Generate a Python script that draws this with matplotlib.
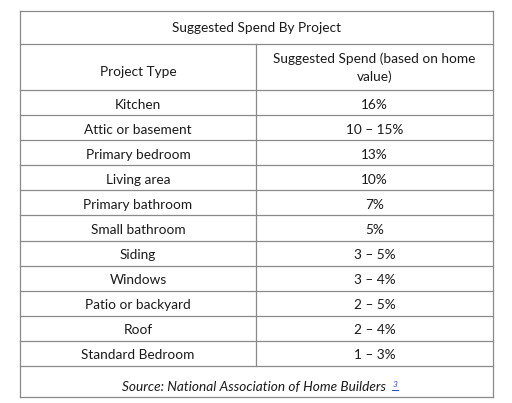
import matplotlib.pyplot as plt

title = 'Suggested Spend By Project'
col_headers = ['Project Type', 'Suggested Spend (based on home\nvalue)']
projects = ['Kitchen', 'Attic or basement', 'Primary bedroom', 'Living area',
            'Primary bathroom', 'Small bathroom', 'Siding', 'Windows',
            'Patio or backyard', 'Roof', 'Standard Bedroom']
spend = ['16%', '10 – 15%', '13%', '10%', '7%', '5%', '3 – 5%', '3 – 4%',
         '2 – 5%', '2 – 4%', '1 – 3%']
source = 'Source: National Association of Home Builders'

fig = plt.figure(figsize=(5.12, 4.03), dpi=100)
ax = fig.add_axes([0, 0, 1, 1])
ax.set_xlim(0, 512)
ax.set_ylim(403, 0)
ax.axis('off')

left, right, mid = 20, 493, 256
top, t1, t2, rows_bottom, bottom = 11, 44, 90, 366, 397
row_h = (rows_bottom - t2) / len(projects)
lc = '#8a8a8a'
fs = 9.8
font = 'Lato'
tc = '#1a1a1a'

# outer box and horizontal rules
for y in [top, t1, t2, bottom]:
    ax.plot([left, right], [y, y], color=lc, lw=0.9)
for i in range(1, len(projects) + 1):
    y = t2 + i * row_h
    ax.plot([left, right], [y, y], color=lc, lw=0.9)
ax.plot([left, left], [top, bottom], color=lc, lw=0.9)
ax.plot([right, right], [top, bottom], color=lc, lw=0.9)
ax.plot([mid, mid], [t1, rows_bottom], color=lc, lw=0.9)

ax.text((left + right) / 2, (top + t1) / 2 + 1, title, ha='center', va='center',
        fontsize=fs, family=font, color=tc)
ax.text((left + mid) / 2, (t1 + t2) / 2 + 5, col_headers[0], ha='center', va='center',
        fontsize=fs, family=font, color=tc)
ax.text((mid + right) / 2, (t1 + t2) / 2 + 1, col_headers[1], ha='center', va='center',
        fontsize=fs, family=font, color=tc, linespacing=1.5)

for i, (p, s) in enumerate(zip(projects, spend)):
    yc = t2 + (i + 0.5) * row_h + 2
    ax.text((left + mid) / 2, yc, p, ha='center', va='center',
            fontsize=fs, family=font, color=tc)
    ax.text((mid + right) / 2, yc, s, ha='center', va='center',
            fontsize=fs, family=font, color=tc)

ax.text((left + right) / 2 - 3, (rows_bottom + bottom) / 2 + 5, source, ha='center',
        va='center', fontsize=fs, family=font, style='italic', color=tc)
ax.text(393, (rows_bottom + bottom) / 2 + 3, '3', ha='left', va='center',
        fontsize=6, family=font, style='italic', color='#3344cc')
ax.plot([392, 398], [(rows_bottom + bottom) / 2 + 8] * 2, color='#3344cc', lw=0.7)

fig.savefig('out.png', dpi=100, facecolor='white')
